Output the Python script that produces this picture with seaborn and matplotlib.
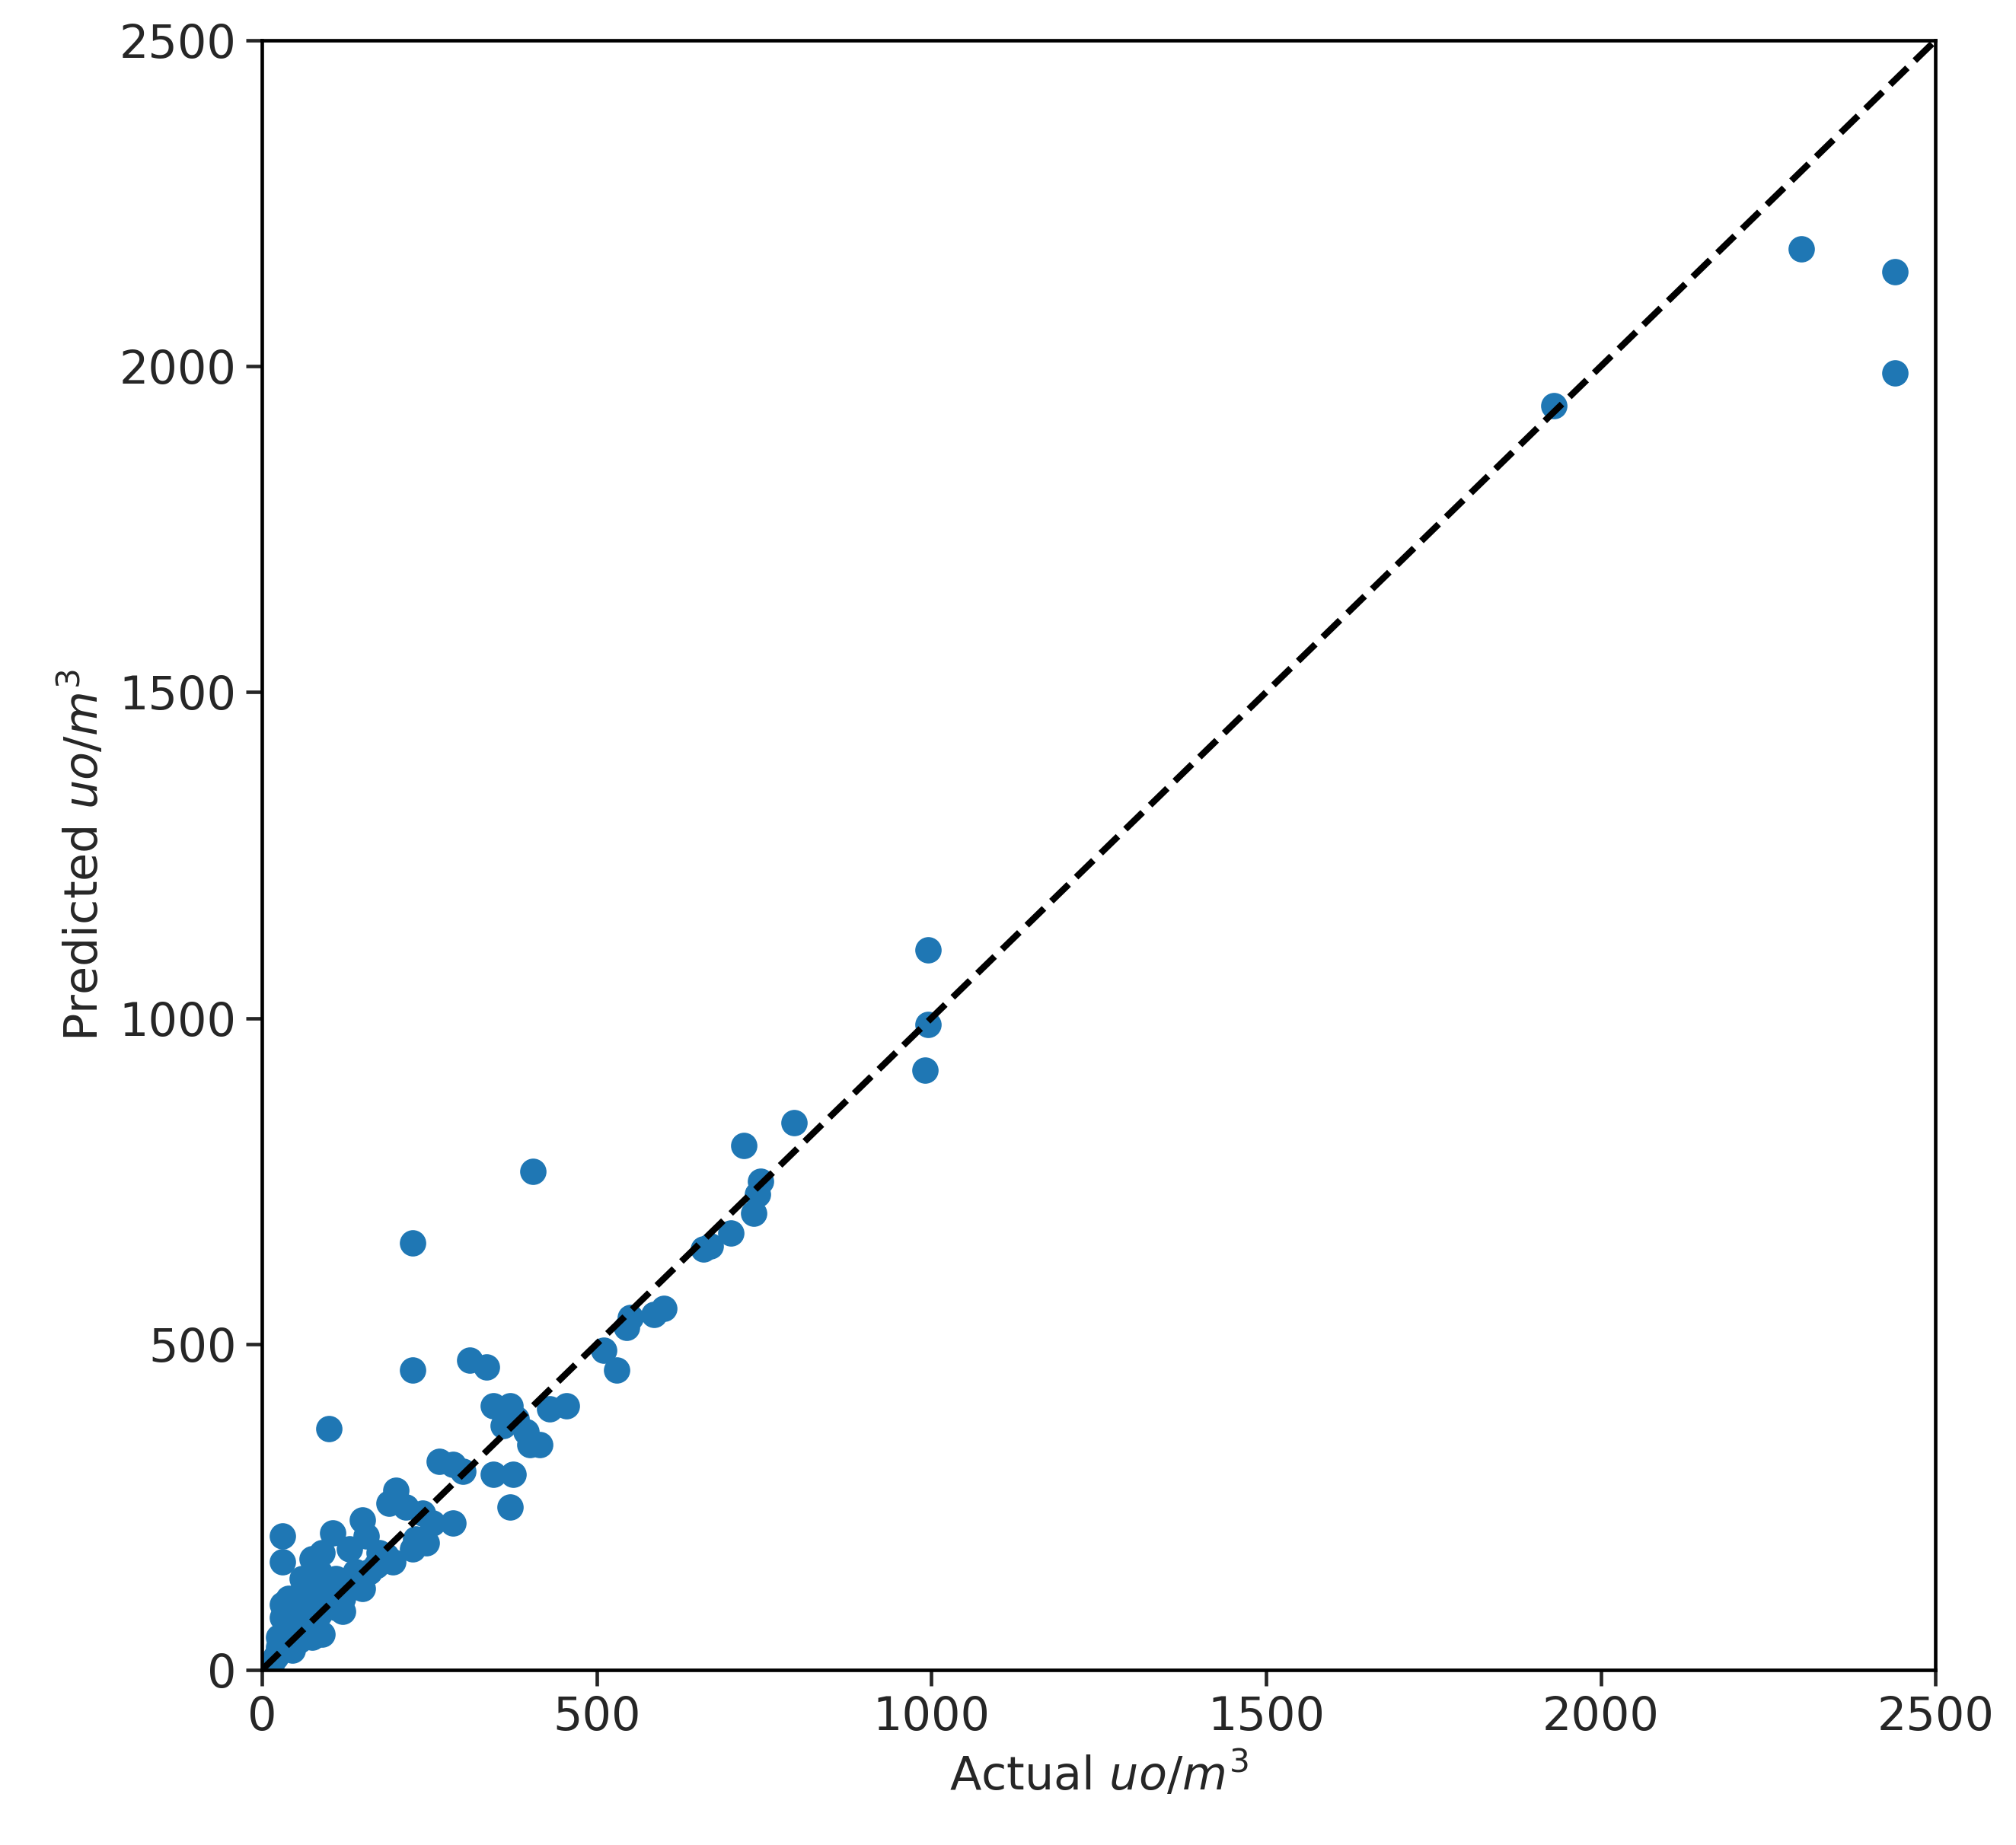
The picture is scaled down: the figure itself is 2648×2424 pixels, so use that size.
import numpy as np
import pandas as pd
import matplotlib
matplotlib.use("Agg")
import matplotlib.pyplot as plt
import seaborn as sns

# values (uo/m^3)
actual = [2440, 2440, 2300, 1930, 995, 995, 990, 795, 720, 745, 740, 735, 700, 670, 660,
          600, 585, 550, 545, 530, 510, 405, 225, 225, 100, 310, 335, 345, 370, 380, 360,
          395, 400, 415, 375, 345, 370, 430, 455, 265, 285, 300, 200, 190, 215, 240, 255,
          285, 230, 245, 225, 30, 30, 105, 150, 155, 130, 175, 195, 160, 150, 130, 110,
          90, 75, 60, 40, 30, 25, 50, 70, 80, 90, 100, 120, 55, 40, 75, 90, 65, 20, 35,
          45, 110, 140, 170, 185, 60, 85, 120, 45, 30, 15,
          35, 50, 65, 40, 55, 70, 85, 25, 60, 95, 80, 45]
predicted = [2145, 1990, 2180, 1940, 1105, 990, 920, 840, 805, 750, 730, 700, 670, 650, 645,
             555, 545, 540, 525, 460, 490, 765, 655, 460, 370, 475, 465, 405, 405, 385, 375,
             365, 345, 345, 300, 300, 250, 400, 405, 320, 315, 305, 275, 255, 250, 240, 225,
             225, 200, 195, 185, 205, 165, 210, 230, 205, 185, 180, 165, 150, 125, 130, 140,
             180, 170, 120, 100, 80, 50, 90, 100, 130, 105, 120, 110, 60, 40, 50, 55, 80, 20,
             70, 30, 95, 150, 160, 175, 140, 150, 90, 65, 100, 10,
             60, 75, 95, 110, 45, 65, 85, 35, 105, 130, 115, 55]

df = pd.DataFrame({"actual": actual, "predicted": predicted})

sns.set_style("ticks")
plt.rcParams["font.family"] = ["DejaVu Sans"]

fig = plt.figure(figsize=(2648 / 256, 2424 / 256), dpi=256)
ax = fig.add_axes([0.130, 0.095, 0.830, 0.883])

sns.scatterplot(data=df, x="actual", y="predicted", ax=ax, s=95,
                color="#1f77b4", linewidth=0, zorder=2)
ax.plot([0, 2500], [0, 2500], "k--", linewidth=2.4, zorder=3)

ax.set_xlim(0, 2500)
ax.set_ylim(0, 2500)
ticks = [0, 500, 1000, 1500, 2000, 2500]
ax.set_xticks(ticks)
ax.set_yticks(ticks)
ax.tick_params(labelsize=17, width=1.3, length=6)
for sp in ax.spines.values():
    sp.set_linewidth(1.3)
    sp.set_color("black")
ax.set_xlabel("Actual $uo/m^3$", fontsize=17)
ax.set_ylabel("Predicted $uo/m^3$", fontsize=17)

fig.savefig("out.png", dpi=256)
